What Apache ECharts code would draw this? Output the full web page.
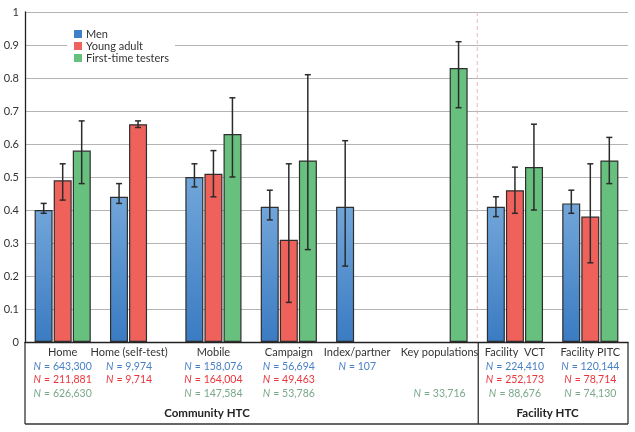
<!DOCTYPE html>
<html>
<head>
<meta charset="utf-8">
<script src="https://cdn.jsdelivr.net/npm/echarts@6/dist/echarts.min.js"></script>
<style>
  html, body { margin: 0; padding: 0; background: #fff; }
  #chart { width: 635px; height: 432px; }
</style>
</head>
<body>
<div id="chart"></div>
<script>
// Данные
const categories = ['Home', 'Home (self-test)', 'Mobile', 'Campaign', 'Index/partner', 'Key populations', 'Facility  VCT', 'Facility PITC'];

const menValues = [0.40, 0.44, 0.50, 0.41, 0.41, null, 0.41, 0.42];
const menLow    = [0.39, 0.42, 0.47, 0.37, 0.23, null, 0.38, 0.39];
const menHigh   = [0.42, 0.48, 0.54, 0.46, 0.61, null, 0.44, 0.46];

const youngValues = [0.49, 0.66, 0.51, 0.31, null, null, 0.46, 0.38];
const youngLow    = [0.43, 0.65, 0.44, 0.12, null, null, 0.39, 0.24];
const youngHigh   = [0.54, 0.67, 0.58, 0.54, null, null, 0.53, 0.54];

const firstValues = [0.58, null, 0.63, 0.55, null, 0.83, 0.53, 0.55];
const firstLow    = [0.48, null, 0.50, 0.28, null, 0.71, 0.40, 0.48];
const firstHigh   = [0.67, null, 0.74, 0.81, null, 0.91, 0.66, 0.62];

const menN   = ['643,300', '9,974', '158,076', '56,694', '107', '', '224,410', '120,144'];
const youngN = ['211,881', '9,714', '164,004', '49,463', '', '', '252,173', '78,714'];
const firstN = ['626,630', '', '147,584', '53,786', '', '33,716', '88,676', '74,130'];

const yTicks = ['0', '0.1', '0.2', '0.3', '0.4', '0.5', '0.6', '0.7', '0.8', '0.9', '1'];

// Оформление
const FONT = 'Lato, "Open Sans", sans-serif';
const COLORS = { men: '#3f80c8', young: '#ef625c', first: '#68c07f' };
const GRID = { left: 25, right: 7, top: 12, bottom: 90 };
const W = 635, H = 432;
const plotRight = W - GRID.right;
const axisY = H - GRID.bottom;
const boxBottom = 424;
const splitX = GRID.left + (plotRight - GRID.left) * 6 / categories.length;
const BAR_OFFSET = 19;
// Сдвиг подписей влево (пустой хвост в каждой строке)
const labelShift = ['', '{sp18| }', '', '', '{sp14| }', '', '', ''];

function nLine(style, value, tail) {
    if (!value) return '{' + style + '| }';
    return '{' + style + 'i|N} {' + style + '|= ' + value + '}' + tail;
}

function errorSeries(low, high, offset) {
    const data = low.map((v, i) => v == null ? null : [i, v, high[i]]).filter(Boolean);
    return {
        type: 'custom',
        silent: true,
        z: 5,
        data: data,
        renderItem: function (params, api) {
            const lo = api.coord([api.value(0), api.value(1)]);
            const hi = api.coord([api.value(0), api.value(2)]);
            const cx = lo[0] + offset;
            const cap = 3;
            const style = { stroke: '#2b2b2b', lineWidth: 1.5 };
            return {
                type: 'group',
                children: [
                    { type: 'line', shape: { x1: cx, y1: hi[1], x2: cx, y2: lo[1] }, style: style },
                    { type: 'line', shape: { x1: cx - cap, y1: hi[1], x2: cx + cap, y2: hi[1] }, style: style },
                    { type: 'line', shape: { x1: cx - cap, y1: lo[1], x2: cx + cap, y2: lo[1] }, style: style }
                ]
            };
        }
    };
}

function barSeries(name, values, color) {
    return {
        name: name,
        type: 'bar',
        data: values,
        barWidth: 18,
        barGap: '6%',
        itemStyle: { color: color, borderColor: '#2e2e2e', borderWidth: 1.2 }
    };
}

const menGradient = new echarts.graphic.LinearGradient(0, 0, 0, 1, [
    { offset: 0, color: '#72a6da' },
    { offset: 1, color: '#3a7bc2' }
]);

const chart = echarts.init(document.getElementById('chart'));

const lineStyle = { stroke: '#333', lineWidth: 1.3 };
const nStyle = (color, italic) => ({
    fontFamily: FONT, fontSize: 10.5, color: color, lineHeight: 13.5, fontStyle: italic ? 'italic' : 'normal'
});

const option = {
    animation: false,
    textStyle: { fontFamily: FONT },
    grid: GRID,
    legend: {
        orient: 'vertical',
        left: 67,
        top: 25,
        backgroundColor: '#fff',
        padding: [3, 6, 3, 7],
        itemWidth: 8,
        itemHeight: 8,
        itemGap: 0,
        icon: 'rect',
        textStyle: { fontFamily: FONT, fontSize: 11, color: '#333', lineHeight: 12, padding: [0, 0, 0, -1] },
        data: [
            { name: 'Men', itemStyle: { color: COLORS.men, borderWidth: 0 } },
            { name: 'Young adult', itemStyle: { color: COLORS.young, borderWidth: 0 } },
            { name: 'First-time testers', itemStyle: { color: COLORS.first, borderWidth: 0 } }
        ]
    },
    xAxis: {
        type: 'category',
        data: categories,
        axisLine: { show: true, lineStyle: { color: '#222', width: 1.3 } },
        axisTick: { show: false },
        axisLabel: {
            interval: 0,
            margin: 4,
            formatter: function (value, index) {
                const tail = labelShift[index];
                return '{cat|' + value + '}' + tail + '\n' +
                    nLine('b', menN[index], tail) + '\n' +
                    nLine('r', youngN[index], tail) + '\n' +
                    nLine('g', firstN[index], tail);
            },
            rich: {
                cat: { fontFamily: FONT, fontSize: 11, color: '#333', lineHeight: 13.5 },
                b: nStyle('#4a80c4', false),
                bi: nStyle('#4a80c4', true),
                r: nStyle('#e8363c', false),
                ri: nStyle('#e8363c', true),
                g: nStyle('#7aa88a', false),
                gi: nStyle('#7aa88a', true),
                sp18: { width: 18, lineHeight: 13.5 },
                sp14: { width: 14, lineHeight: 13.5 }
            }
        }
    },
    yAxis: {
        type: 'value',
        min: 0,
        max: 1,
        interval: 0.1,
        axisLine: { show: true, lineStyle: { color: '#222', width: 1.3 } },
        axisTick: { show: false },
        axisLabel: {
            margin: 6,
            fontFamily: FONT,
            fontSize: 11,
            color: '#333',
            formatter: function (v) { return yTicks[Math.round(v * 10)]; }
        },
        splitLine: { lineStyle: { color: '#b4b4b4', width: 1.2 } }
    },
    series: [
        barSeries('Men', menValues, menGradient),
        barSeries('Young adult', youngValues, COLORS.young),
        barSeries('First-time testers', firstValues, COLORS.first),
        errorSeries(menLow, menHigh, -BAR_OFFSET),
        errorSeries(youngLow, youngHigh, 0),
        errorSeries(firstLow, firstHigh, BAR_OFFSET)
    ],
    graphic: [
        // Пунктирный разделитель
        { type: 'line', z: 1, silent: true, shape: { x1: splitX, y1: GRID.top, x2: splitX, y2: axisY },
          style: { stroke: '#e6b9bf', lineWidth: 1, lineDash: [4, 3] } },
        // Рамки групп
        { type: 'line', silent: true, shape: { x1: GRID.left, y1: axisY, x2: GRID.left, y2: boxBottom }, style: lineStyle },
        { type: 'line', silent: true, shape: { x1: GRID.left, y1: boxBottom, x2: plotRight, y2: boxBottom }, style: lineStyle },
        { type: 'line', silent: true, shape: { x1: splitX + 1, y1: axisY, x2: splitX + 1, y2: boxBottom }, style: lineStyle },
        { type: 'line', silent: true, shape: { x1: plotRight, y1: axisY, x2: plotRight, y2: boxBottom }, style: lineStyle },
        { type: 'text', silent: true, x: 207, y: 413,
          style: { text: 'Community HTC', font: 'bold 11.5px ' + FONT, fill: '#222', textAlign: 'center', textVerticalAlign: 'middle' } },
        { type: 'text', silent: true, x: (splitX + plotRight) / 2 - 5, y: 413,
          style: { text: 'Facility HTC', font: 'bold 11.5px ' + FONT, fill: '#222', textAlign: 'center', textVerticalAlign: 'middle' } }
    ]
};

chart.setOption(option);
</script>
</body>
</html>
